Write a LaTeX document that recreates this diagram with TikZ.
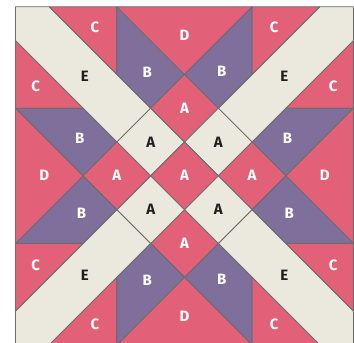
\documentclass[tikz,border=0pt]{standalone}
\usepackage{fontspec}
\setmainfont{Fira Sans}
\definecolor{quiltpink}{HTML}{E26178}
\definecolor{quiltpurple}{HTML}{7E6F9B}
\definecolor{quiltcream}{HTML}{EBE9DD}

\begin{document}
\begin{tikzpicture}[
    x=33.8pt, y=33.8pt,
    font=\fontsize{15}{18}\selectfont\bfseries,
    patch/.style={
        draw=black!58,
        line width=0.8pt,
        line join=round
    },
    pinkpatch/.style={patch, fill=quiltpink},
    purplepatch/.style={patch, fill=quiltpurple},
    creampatch/.style={patch, fill=quiltcream},
    lightlabel/.style={text=white, inner sep=0pt},
    darklabel/.style={text=black!88, inner sep=0pt}
]
\useasboundingbox (-184.5pt,-167.2pt) rectangle (169.5pt,175.8pt);
% one corner and one side, turned four times
\foreach \ang/\nm in {0/nw,270/ne,180/se,90/sw}{
    \begin{scope}[rotate=\ang]
        \draw[creampatch] (-5,5) -- (-4,5) -- (-1,2) -- (-2,1) -- (-5,4) -- cycle;
        \draw[creampatch] (-1,2) -- (0,1) -- (-1,0) -- (-2,1) -- cycle;
        \draw[pinkpatch] (-4,5) -- (-2,5) -- (-2,3) -- cycle;
        \draw[pinkpatch] (-5,4) -- (-5,2) -- (-3,2) -- cycle;
        \draw[purplepatch] (-2,5) -- (0,3) -- (-1,2) -- (-2,3) -- cycle;
        \draw[purplepatch] (-5,2) -- (-3,2) -- (-2,1) -- (-3,0) -- cycle;
        \draw[pinkpatch] (-2,5) -- (2,5) -- (0,3) -- cycle;
        \draw[pinkpatch] (0,3) -- (1,2) -- (0,1) -- (-1,2) -- cycle;
        \node[darklabel] (e-\nm) at (-2.95,2.95) {E};
        \node[darklabel] (acream-\nm) at (-1,1) {A};
        \node[lightlabel] (ctop-\nm) at (-2.65,4.4) {C};
        \node[lightlabel] (cside-\nm) at (-4.4,2.65) {C};
        \node[lightlabel] (btop-\nm) at (-1.1,3.05) {B};
        \node[lightlabel] (bside-\nm) at (-3.1,1.1) {B};
        \node[lightlabel] (d-\nm) at (0,4.15) {D};
        \node[lightlabel] (ared-\nm) at (0,2) {A};
    \end{scope}
}
\draw[pinkpatch] (0,1) -- (1,0) -- (0,-1) -- (-1,0) -- cycle;
\node[lightlabel] (acenter) at (0,0) {A};
\end{tikzpicture}
\end{document}
